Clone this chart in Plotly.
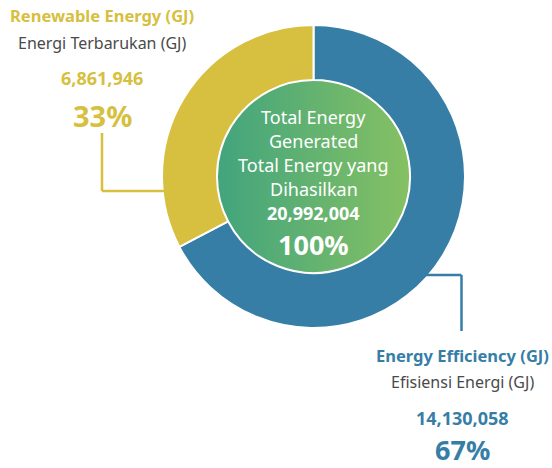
import plotly.graph_objects as go

# Energy breakdown (GJ)
labels = ["Energy Efficiency (GJ)", "Renewable Energy (GJ)"]
labels_id = ["Efisiensi Energi (GJ)", "Energi Terbarukan (GJ)"]
values = [14130058, 6861946]
colors = ["#367EA6", "#D7BF40"]
total = sum(values)

W, H = 552, 468
cx, cy, R = 313.5, 176.5, 151.5      # donut centre / radius in px (y from top)
hole = 0.637

def px(x):
    return x / W

def py(y):
    return 1 - y / H

fig = go.Figure()

# gradient disc filling the donut hole
fig.add_trace(go.Scatter(
    x=[0.5], y=[0.5], mode="markers", hoverinfo="skip", showlegend=False,
    marker=dict(size=2 * R * hole + 2, color="#41A47D",
                gradient=dict(type="horizontal", color="#86C163"),
                line=dict(color="white", width=2.5)),
    xaxis="x", yaxis="y",
))

fig.add_trace(go.Pie(
    labels=labels, values=values, hole=hole, sort=False, direction="clockwise",
    rotation=0, textinfo="none", hoverinfo="label+value+percent",
    marker=dict(colors=colors, line=dict(color="white", width=2)),
    domain=dict(x=[px(cx - R), px(cx + R)], y=[py(cy + R), py(cy - R)]),
    showlegend=False,
))

# place the disc exactly at the donut centre
fig.update_layout(
    xaxis=dict(domain=[0, 1], range=[0.5 - px(cx), 0.5 + (1 - px(cx))], visible=False, fixedrange=True),
    yaxis=dict(domain=[0, 1], range=[0.5 - py(cy), 0.5 + (1 - py(cy))], visible=False, fixedrange=True),
)

side_font = "Noto Sans"
center_font = "Noto Sans"

def note(x, y, text, size, color, bold=False, family=side_font):
    if bold:
        text = "<b>" + text + "</b>"
    fig.add_annotation(x=px(x), y=py(y), xref="paper", yref="paper", text=text,
                       showarrow=False, xanchor="center", yanchor="middle",
                       borderpad=0, font=dict(family=family, size=size, color=color))

pcts = [round(v / total * 100) for v in values]

# left label block (renewable)
note(102, 16, labels[1], 16.5, colors[1], bold=True)
note(102, 43, labels_id[1], 16, "#4a4a4a")
note(102, 78, f"{values[1]:,}", 18, colors[1], bold=True)
note(102, 115, f"{pcts[1]}%", 29, colors[1], bold=True)

# right label block (efficiency)
note(462, 355, labels[0], 16.5, colors[0], bold=True)
note(462, 382, labels_id[0], 16, "#4a4a4a")
note(462, 418, f"{values[0]:,}", 18, colors[0], bold=True)
note(462, 449, f"{pcts[0]}%", 27, colors[0], bold=True)

# centre text
note(cx, 117, "Total Energy", 18, "white", family=center_font)
note(cx, 141, "Generated", 18, "white", family=center_font)
note(cx, 165, "Total Energy yang", 18, "white", family=center_font)
note(cx, 189, "Dihasilkan", 18, "white", family=center_font)
note(cx, 213, f"{total:,}", 18, "white", bold=True, family=center_font)
note(cx, 244, "100%", 27, "white", bold=True, family=center_font)

# leader lines
def seg(x0, y0, x1, y1, color):
    fig.add_shape(type="line", xref="paper", yref="paper",
                  x0=px(x0), y0=py(y0), x1=px(x1), y1=py(y1),
                  line=dict(color=color, width=2.5))

seg(102, 133, 102, 191, colors[1])
seg(102, 191, 166, 191, colors[1])
seg(426, 275, 461.5, 275, colors[0])
seg(461.5, 275, 461.5, 331, colors[0])

fig.update_layout(
    width=W, height=H, margin=dict(l=0, r=0, t=0, b=0),
    paper_bgcolor="white", plot_bgcolor="rgba(0,0,0,0)",
)

fig.write_html("out.html")
